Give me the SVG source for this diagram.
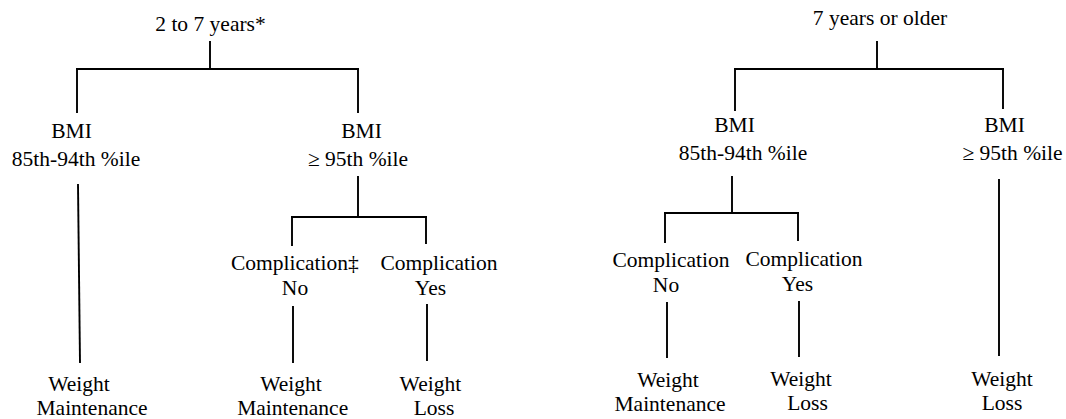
<svg xmlns="http://www.w3.org/2000/svg" width="1066" height="419" viewBox="0 0 1066 419">
<style>
text{font-family:"Liberation Serif","Times New Roman",serif;font-size:21.5px;fill:#000;text-anchor:middle}
.st{text-anchor:start}
.c line{stroke:#000;stroke-width:1.9;stroke-linecap:square}
</style>
<rect width="1066" height="419" fill="#fff"/>
<g class="c" id="connectors">
<line x1="210" y1="42" x2="210" y2="69"/>
<line x1="77" y1="69" x2="358" y2="69"/>
<line x1="77" y1="69" x2="77" y2="112"/>
<line x1="358" y1="69" x2="358" y2="112"/>
<line x1="78" y1="185" x2="80" y2="362"/>
<line x1="358" y1="177" x2="358" y2="217"/>
<line x1="292" y1="217" x2="426" y2="217"/>
<line x1="292" y1="217" x2="292" y2="245"/>
<line x1="426" y1="217" x2="426" y2="243"/>
<line x1="293" y1="307" x2="293" y2="362"/>
<line x1="427" y1="305" x2="427" y2="360"/>
<line x1="877" y1="42" x2="877" y2="69"/>
<line x1="735" y1="69" x2="1003" y2="69"/>
<line x1="735" y1="69" x2="735" y2="110"/>
<line x1="1003" y1="69" x2="1003" y2="108"/>
<line x1="732" y1="177" x2="732" y2="213"/>
<line x1="665" y1="213" x2="798" y2="213"/>
<line x1="665" y1="213" x2="665" y2="242"/>
<line x1="798" y1="213" x2="798" y2="240"/>
<line x1="667" y1="303" x2="667" y2="357"/>
<line x1="799" y1="302" x2="799" y2="356"/>
<line x1="999" y1="180" x2="999" y2="355"/>
</g>
<g id="n-2to7"><text x="210.5" y="31">2 to 7 years*</text></g>
<g id="n-l-bmi85"><text x="71.5" y="138">BMI</text><text x="76" y="166">85th-94th %ile</text></g>
<g id="n-l-bmi95"><text x="361.5" y="138">BMI</text><text x="358" y="166">≥ 95th %ile</text></g>
<g id="n-l-compno"><text class="st" x="231" y="270">Complication‡</text><text x="295" y="295">No</text></g>
<g id="n-l-compyes"><text x="439" y="270">Complication</text><text x="430.5" y="295">Yes</text></g>
<g id="n-l-wm1"><text x="79" y="391">Weight</text><text x="92" y="415">Maintenance</text></g>
<g id="n-l-wm2"><text x="291" y="391">Weight</text><text x="292.7" y="415">Maintenance</text></g>
<g id="n-l-wl"><text x="430.4" y="391">Weight</text><text x="434" y="415">Loss</text></g>
<g id="n-7older"><text x="880" y="25">7 years or older</text></g>
<g id="n-r-bmi85"><text x="734.5" y="132">BMI</text><text x="743" y="160">85th-94th %ile</text></g>
<g id="n-r-bmi95"><text x="1004.6" y="132">BMI</text><text x="1012.5" y="160">≥ 95th %ile</text></g>
<g id="n-r-compno"><text x="671" y="267">Complication</text><text x="666" y="292">No</text></g>
<g id="n-r-compyes"><text x="804" y="266">Complication</text><text x="797.5" y="291">Yes</text></g>
<g id="n-r-wm"><text x="668" y="387">Weight</text><text x="670" y="411">Maintenance</text></g>
<g id="n-r-wl1"><text x="801" y="386">Weight</text><text x="807.5" y="410">Loss</text></g>
<g id="n-r-wl2"><text x="1002" y="386">Weight</text><text x="1002" y="410">Loss</text></g>
</svg>
